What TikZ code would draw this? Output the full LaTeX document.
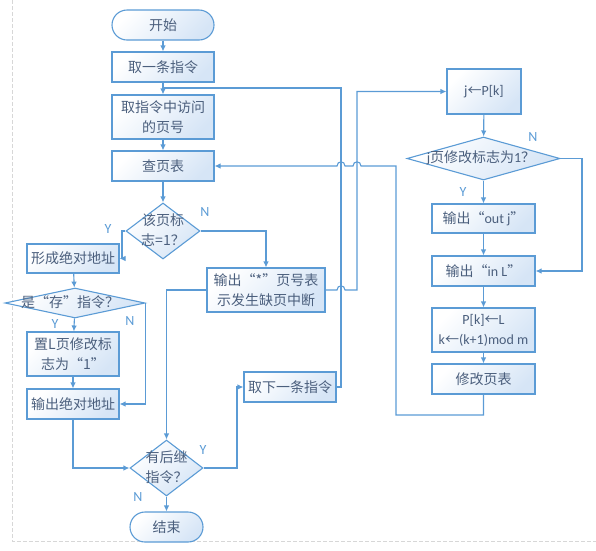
\documentclass[tikz,border=0pt]{standalone}
\usepackage{fontspec}
\setmainfont{Carlito}
\newfontfamily\cjk{Noto Sans CJK SC}
\newfontfamily\lat{Carlito}
\usetikzlibrary{arrows.meta,shapes.geometric}
\definecolor{lineblue}{RGB}{91,155,213}
\definecolor{txtc}{RGB}{75,95,125}
\definecolor{fillb}{RGB}{214,229,246}
\definecolor{bordergray}{RGB}{215,215,215}
\begin{document}
\begin{tikzpicture}[x=1pt,y=-1pt,
  every node/.style={font=\cjk\fontsize{14}{20}\selectfont, text=txtc},
  base/.style={draw=lineblue, line width=1.1pt, top color=white, bottom color=fillb, shading angle=45, inner sep=0pt, align=center},
  box/.style={base, rectangle},
  term/.style={base, rectangle, rounded corners=15pt},
  dia/.style={base, diamond},
  dtext/.style={align=center, inner sep=0pt},
  conn/.style={draw=lineblue, line width=1.1pt, -{Latex[length=6pt,width=5.5pt]}},
  plain/.style={draw=lineblue, line width=1.1pt},
  lab/.style={font=\lat\fontsize{14}{14}\selectfont, text=lineblue, inner sep=0pt},
  wsz/.style 2 args={minimum width=#1pt, minimum height=#2pt}
]
\useasboundingbox (0,0) rectangle (596,550);
% border
\draw[bordergray, line width=0.8pt, dash pattern=on 4pt off 2pt] (12,0) -- (12,541) -- (596,541);

% left column
\node[term, wsz={102}{30}] (start) at (163,25) {开始};
\node[box, wsz={102}{30}] (n1) at (163,67) {取一条指令};
\node[box, wsz={102}{44}] (n2) at (163,117) {取指令中访问\\的页号};
\node[box, wsz={102}{30}] (n3) at (163,166) {查页表};
\node[dia, wsz={74}{56}] (d1) at (163,231) {};
\node[dtext] (d1t) at (163,230) {该页标\\志=1？};
\node[box, wsz={92}{29}] (n4) at (73,258.5) {形成绝对地址};
\node[dia, wsz={140}{30}] (d2) at (75,303) {};
\node[dtext] (d2t) at (70,302) {是“存”指令？};
\node[box, wsz={92}{44}] (n5) at (73,354) {置L页修改标\\志为“1”};
\node[box, wsz={92}{30}] (n6) at (73,404) {输出绝对地址};
\node[dia, wsz={73}{56}] (d3) at (166.5,468) {};
\node[dtext] (d3t) at (166.5,467) {有后继\\指令？};
\node[term, wsz={73}{30}] (end) at (166.5,527) {结束};
\node[box, wsz={118}{44}] (n7) at (266,290) {输出“*”页号表\\示发生缺页中断};
\node[box, wsz={92}{30}] (n8) at (290,387) {取下一条指令};

% right column
\node[box, wsz={74}{45}] (r1) at (484,91.5) {{\lat j}←{\lat P[k]}};
\node[dia, wsz={153}{43}] (d4) at (483.5,158.5) {};
\node[dtext] (d4t) at (481,158) {{\lat j}页修改标志为{\lat 1}？};
\node[box, wsz={103}{29}] (r2) at (483.5,218.5) {输出“{\lat out j}”};
\node[box, wsz={103}{30}] (r3) at (483.5,271) {输出“{\lat in L}”};
\node[box, wsz={103}{44}] (r4) at (483.5,330) {{\lat P[k]}←{\lat L}\\{\lat k}←{\lat (k+1)mod m}};
\node[box, wsz={103}{30}] (r5) at (483.5,379) {修改页表};

\coordinate (m1) at (163,88);

% connectors left
\draw[conn] (start) -- (n1);
\draw[conn] (n1) -- (n2);
\draw[conn] (n2) -- (n3);
\draw[conn] (n3) -- (d1);
\draw[conn] (d1.west) -- (122,231) |- (n4.east);
\draw[conn] (d1.east) -| (n7.north);
\draw[conn] (n4) -- (d2);
\draw[conn] (d2) -- (n5);
\draw[conn] (d2.east) |- (n6.east);
\draw[conn] (n5) -- (n6);
\draw[conn] (n6.south) |- (d3.west);
\draw[conn] (n7.west) -| (d3.north);
\draw[conn] (d3.east) -- (237,468) |- (n8.west);
\draw[conn] (d3) -- (end);
\draw[plain] (n8.east) -- (341,387) -- (341,88) -- (m1);

% long connectors with jumps
\draw[conn] (n7.east) -- (337,290) .. controls (337,284.5) and (345,284.5) .. (345,290) -- (357,290) -- (357,91.5) -- (r1.west);
\draw[conn] (r5.south) -- (483.5,415) -- (396,415) -- (396,166) -- (361,166) .. controls (361,160.5) and (353,160.5) .. (353,166) -- (345,166) .. controls (345,160.5) and (337,160.5) .. (337,166) -- (n3.east);

% connectors right
\draw[conn] (r1) -- (d4);
\draw[conn] (d4) -- (r2);
\draw[conn] (d4.east) -- (582,158.5) |- (r3.east);
\draw[conn] (r2) -- (r3);
\draw[conn] (r3) -- (r4);
\draw[conn] (r4) -- (r5);

% labels
\node[lab] (y1) at (108,229) {Y};
\node[lab] (nn1) at (205,212) {N};
\node[lab] (y2) at (55,324) {Y};
\node[lab] (nn2) at (130,321) {N};
\node[lab] (y3) at (203,450) {Y};
\node[lab] (nn3) at (138,497) {N};
\node[lab] (y4) at (463,192) {Y};
\node[lab] (nn4) at (533,137) {N};
\end{tikzpicture}
\end{document}
